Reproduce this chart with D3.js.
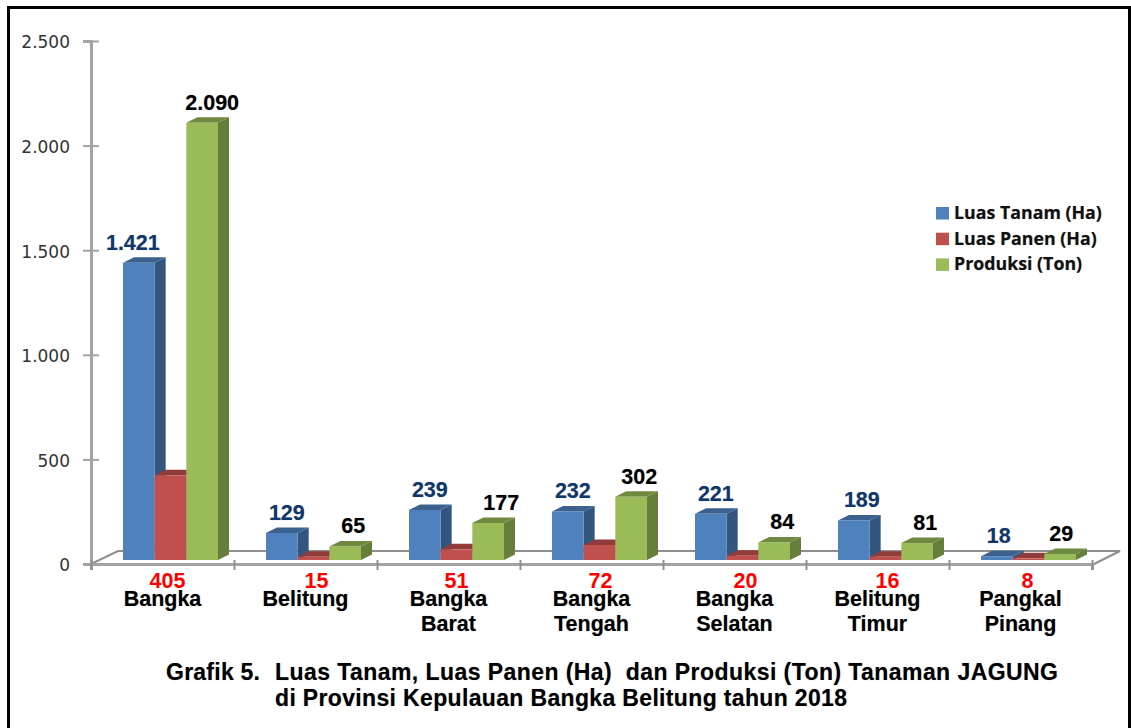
<!DOCTYPE html>
<html>
<head>
<meta charset="utf-8">
<script src="https://cdn.jsdelivr.net/npm/d3@7"></script>
<style>
  body { margin: 0; background: #fff; }
  text { font-family: "Liberation Sans", Arial, sans-serif; }
  .soft { text-shadow: 0 0 1px rgba(0,0,0,.35); }
</style>
</head>
<body>
<svg id="chart" width="1131" height="728"></svg>
<script>
const categories = [['Bangka'], ['Belitung'], ['Bangka', 'Barat'], ['Bangka', 'Tengah'], ['Bangka', 'Selatan'], ['Belitung', 'Timur'], ['Pangkal', 'Pinang']];
const luasTanam = [1421, 129, 239, 232, 221, 189, 18];
const luasPanen = [405, 15, 51, 72, 20, 16, 8];
const produksi = [2090, 65, 177, 302, 84, 81, 29];
const seriesNames = ['Luas Tanam (Ha)', 'Luas Panen (Ha)', 'Produksi (Ton)'];
const yTicks = [0, 500, 1000, 1500, 2000, 2500];

const series = [
  { name: seriesNames[0], values: luasTanam, front: '#4f81bd', side: '#33567f', top: '#3b628f' },
  { name: seriesNames[1], values: luasPanen, front: '#c0504d', side: '#8b3937', top: '#913c3a' },
  { name: seriesNames[2], values: produksi, front: '#9bbb59', side: '#677d3b', top: '#6f8a40' }
];

// small hand nudges for the value labels, they are not centred in the original
const tanamNudge = [-6, 5, 5, 5, 5, 8, 2];
const panenNudge = [-3, 3, 0, 1, 3, 2, -1];
const produksiNudge = [10, 8, 13, 8, 8, 8, 1];

const idDots = d3.formatLocale({ decimal: ',', thousands: '.', grouping: [3], currency: ['', ''] }).format(',');

const svg = d3.select('#chart');

// frame, the bottom edge is cut off in the original
svg.append('path')
  .attr('d', 'M8.5,728V7.5H1129.5V728')
  .attr('fill', 'none')
  .attr('stroke', '#000')
  .attr('stroke-width', 3);

const y = d3.scaleLinear().domain([0, 2500]).range([564, 41]);
const x = d3.scaleBand().domain(d3.range(categories.length)).range([91, 1092]);
const xInner = d3.scaleBand().domain(d3.range(series.length)).range([32, 127]);
const xEdges = d3.scaleLinear().domain([0, categories.length]).range([91, 1092]);

const depthX = 11;
const depthY = 5.5;
const baseLift = 4; // bars stand a bit behind the front floor line
const axisGrey = '#a3a3a3';

// floor
svg.append('path')
  .attr('d', 'M91,564L118,551H1120L1092,565')
  .attr('fill', 'none')
  .attr('stroke', '#8f8f8f')
  .attr('stroke-width', 2);

// y axis
const yAxis = svg.append('g')
  .attr('transform', 'translate(91,0)')
  .call(d3.axisLeft(y).tickValues(yTicks).tickFormat(idDots).tickSize(8).tickPadding(0));
yAxis.select('.domain').attr('stroke', axisGrey).attr('stroke-width', 3);
yAxis.selectAll('.tick line').attr('x2', -8).attr('x1', 8).attr('stroke', axisGrey).attr('stroke-width', 2);
yAxis.selectAll('.tick text')
  .attr('x', -21)
  .attr('dy', '0.4em')
  .style('font-family', '"DejaVu Sans", sans-serif')
  .style('font-size', '17px')
  .attr('fill', '#333');

// x axis, ticks sit on the category edges
const xAxis = svg.append('g')
  .attr('transform', 'translate(0,564)')
  .call(d3.axisBottom(xEdges).ticks(categories.length).tickFormat('').tickSize(6));
xAxis.select('.domain').attr('stroke', axisGrey).attr('stroke-width', 3);
xAxis.selectAll('.tick line').attr('y1', -4).attr('y2', 6).attr('stroke', '#8f8f8f').attr('stroke-width', 2);

// bars, painted left to right so each one covers the side of the previous
const bars = svg.append('g').attr('transform', `translate(0,${-baseLift})`);
series.forEach((s, si) => {
  const g = bars.append('g');
  const left = (d, i) => x(i) + xInner(si);
  const w = xInner.bandwidth();
  const g0 = g.selectAll('g').data(s.values).join('g');
  g0.append('path')
    .attr('fill', s.side)
    .attr('d', (d, i) => {
      const r = left(d, i) + w;
      return `M${r},${y(d)}L${r + depthX},${y(d) - depthY}V${y(0) - depthY}L${r},${y(0)}Z`;
    });
  g0.append('path')
    .attr('fill', s.top)
    .attr('d', (d, i) => {
      const l = left(d, i);
      return `M${l},${y(d)}L${l + depthX},${y(d) - depthY}H${l + w + depthX}L${l + w},${y(d)}Z`;
    });
  g0.append('rect')
    .attr('fill', s.front)
    .attr('x', left)
    .attr('y', d => y(d))
    .attr('width', w)
    .attr('height', d => y(0) - y(d));
});

// value labels
function valueLabels(values, si, nudge, color) {
  svg.append('g').selectAll('text').data(values).join('text')
    .attr('class', 'soft')
    .attr('x', (d, i) => x(i) + xInner(si) + xInner.bandwidth() / 2 + nudge[i])
    .attr('y', d => y(d) - baseLift - 13)
    .attr('text-anchor', 'middle')
    .attr('font-size', 21.5)
    .attr('font-weight', 'bold')
    .attr('fill', color)
    .text(d => idDots(d));
}
valueLabels(luasTanam, 0, tanamNudge, '#10376c');
valueLabels(produksi, 2, produksiNudge, '#000');

svg.append('g').selectAll('text').data(luasPanen).join('text')
  .attr('x', (d, i) => x(i) + xInner(1) + xInner.bandwidth() / 2 + panenNudge[i])
  .attr('y', 588)
  .attr('text-anchor', 'middle')
  .attr('font-size', 21.5)
  .attr('font-weight', 'bold')
  .attr('fill', '#ff0000')
  .text(d => idDots(d));

// category labels
const catText = svg.append('g').selectAll('text').data(categories).join('text')
  .attr('class', 'soft')
  .attr('text-anchor', 'middle')
  .attr('font-size', 21.5)
  .attr('font-weight', 'bold')
  .attr('fill', '#000');
catText.selectAll('tspan').data((d, i) => d.map(t => ({ t, i }))).join('tspan')
  .attr('x', d => x(d.i) + x.bandwidth() / 2)
  .attr('y', (d, j) => 606 + j * 25)
  .text(d => d.t);

// legend
const legend = svg.append('g').selectAll('g').data(series).join('g')
  .attr('transform', (d, i) => `translate(936,${207 + i * 25.7})`);
legend.append('rect').attr('width', 13).attr('height', 12.5).attr('fill', d => d.front);
legend.append('text')
  .attr('class', 'soft')
  .attr('x', 18)
  .attr('y', 12)
  .attr('font-size', 17.8)
  .attr('font-weight', 'bold')
  .style('font-family', '"Open Sans", sans-serif')
  .attr('fill', '#111')
  .text(d => d.name);

// caption
const caption = [
  { text: 'Grafik 5.', x: 166, y: 680, len: 94 },
  { text: 'Luas Tanam, Luas Panen (Ha)  dan Produksi (Ton) Tanaman JAGUNG', x: 275, y: 680, len: 783 },
  { text: 'di Provinsi Kepulauan Bangka Belitung tahun 2018', x: 275, y: 706, len: 572 }
];
svg.append('g').selectAll('text').data(caption).join('text')
  .attr('class', 'soft')
  .attr('x', d => d.x)
  .attr('y', d => d.y)
  .attr('textLength', d => d.len)
  .attr('font-size', 23)
  .attr('font-weight', 'bold')
  .attr('fill', '#000')
  .attr('xml:space', 'preserve')
  .text(d => d.text);
</script>
</body>
</html>
